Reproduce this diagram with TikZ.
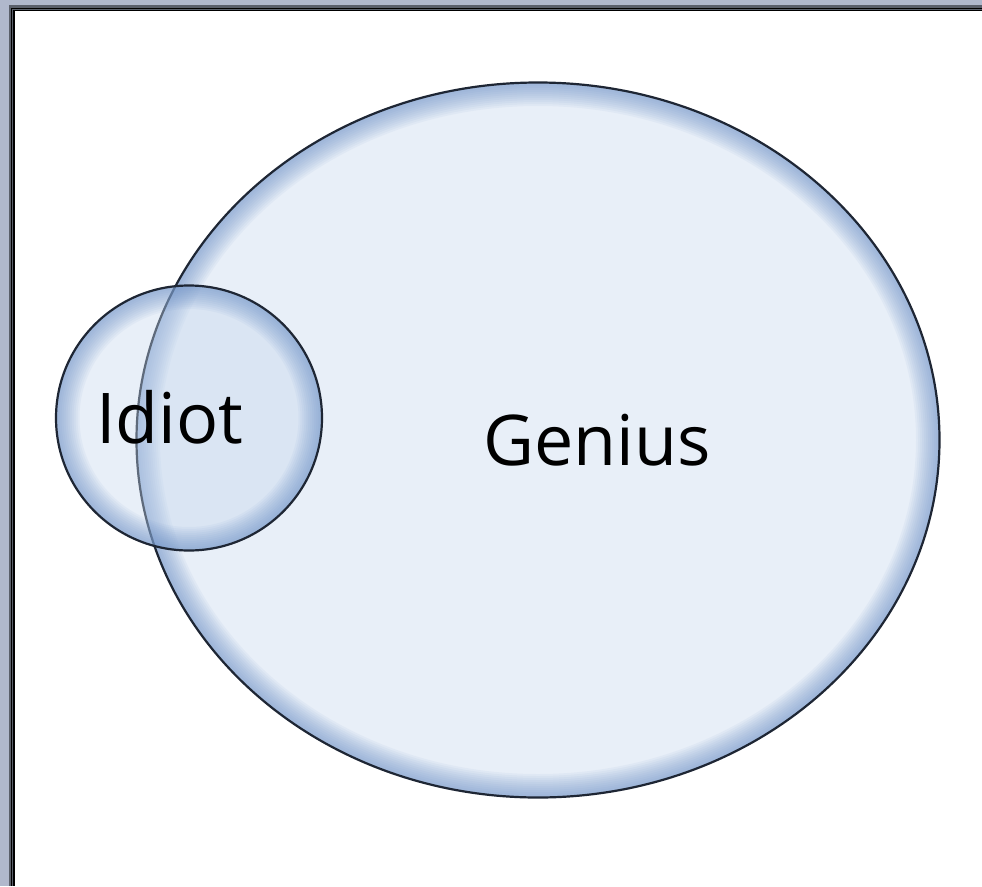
\documentclass[tikz,border=0pt]{standalone}
\usepackage{fontspec}
\setmainfont{Open Sans}
\usetikzlibrary{shapes.geometric}

\definecolor{framegray}{RGB}{176,184,204}
\definecolor{framedark}{RGB}{90,95,106}
\definecolor{rimline}{RGB}{30,38,52}
\definecolor{rimblue}{RGB}{105,142,198}
\definecolor{bigfill}{RGB}{232,239,248}
\definecolor{smallfill}{RGB}{196,214,237}

\tikzset{
  venn/.style={ellipse, draw=rimline, line width=2.2pt, inner sep=0pt, outer sep=0pt},
  glow/.style 2 args={path picture={
      \foreach \w in {3,7,...,47}
        \draw[rimblue, line width=\w pt, opacity=0.065]
          (path picture bounding box.center) ellipse [x radius=#1, y radius=#2];
    }},
  label/.style={font=\fontsize{70}{84}\selectfont, anchor=base, inner sep=0pt},
}

\begin{document}
\begin{tikzpicture}[x=1pt, y=-1pt]
        \useasboundingbox (0,0) rectangle (982,886);
        % Frame
        \fill[framegray] (0,0) rectangle (982,886);
        \fill[framedark] (9,5) rectangle (982,886);
        \fill[black] (11,8) rectangle (982,886);
        \fill[framedark] (12,9) rectangle (982,886);
        \fill[black] (13,10) rectangle (982,886);
        \fill[white] (15,11) rectangle (982,886);

        % Genius
        \node[venn, fill=bigfill, minimum width=803pt, minimum height=715pt,
              glow={401.5pt}{357.5pt}] (genius) at (538,440) {};
        \node[label] (geniustext) at (597,465) {Genius};

        % Idiot
        \node[venn, fill=smallfill, fill opacity=0.39, minimum width=266pt, minimum height=265pt,
              glow={133pt}{132.5pt}] (idiot) at (189,418) {};
        \node[label] (idiottext) at (170,443) {Idiot};
\end{tikzpicture}
\end{document}
